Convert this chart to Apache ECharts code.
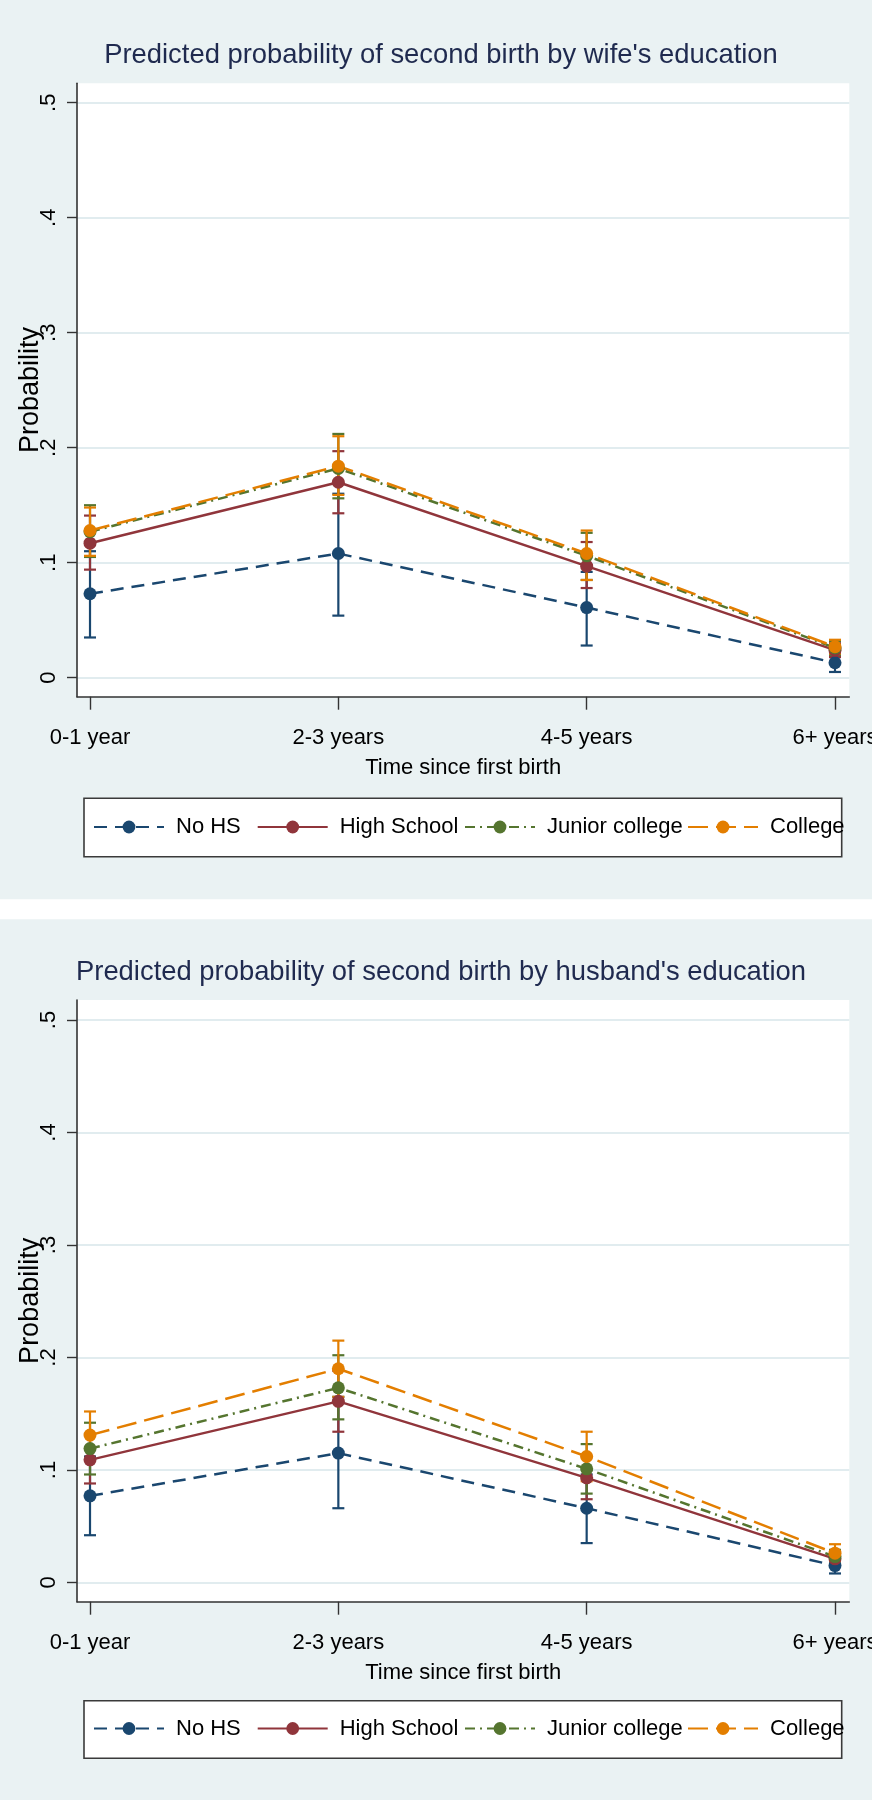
<!DOCTYPE html>
<html>
<head>
<meta charset="utf-8">
<script src="https://cdn.jsdelivr.net/npm/echarts@6/dist/echarts.min.js"></script>
<style>
html,body{margin:0;padding:0;background:#fff;}
#chart{width:878px;height:1800px;}
</style>
</head>
<body>
<div id="chart"></div>
<script>
// ---------- data ----------
const categories = ['0-1 year', '2-3 years', '4-5 years', '6+ years'];
const seriesNames = ['No HS', 'High School', 'Junior college', 'College'];
const yTicks = [0, 0.1, 0.2, 0.3, 0.4, 0.5];
const xTicks = [0, 1, 2, 3];

const titleWife = "Predicted probability of second birth by wife's education";
const titleHusband = "Predicted probability of second birth by husband's education";
const xTitle = 'Time since first birth';
const yTitle = 'Probability';

// wife's education: point estimates and 95% CI
const wifeNoHS   = [0.073, 0.108, 0.061, 0.013];
const wifeNoHSLo = [0.035, 0.054, 0.028, 0.005];
const wifeNoHSHi = [0.110, 0.160, 0.092, 0.020];
const wifeHS     = [0.117, 0.170, 0.097, 0.024];
const wifeHSLo   = [0.094, 0.143, 0.078, 0.018];
const wifeHSHi   = [0.141, 0.197, 0.118, 0.030];
const wifeJC     = [0.127, 0.182, 0.106, 0.026];
const wifeJCLo   = [0.105, 0.156, 0.085, 0.020];
const wifeJCHi   = [0.150, 0.212, 0.126, 0.032];
const wifeCol    = [0.128, 0.184, 0.108, 0.027];
const wifeColLo  = [0.106, 0.159, 0.085, 0.021];
const wifeColHi  = [0.148, 0.210, 0.128, 0.033];

// husband's education
const husNoHS   = [0.077, 0.115, 0.066, 0.015];
const husNoHSLo = [0.042, 0.066, 0.035, 0.008];
const husNoHSHi = [0.112, 0.165, 0.096, 0.021];
const husHS     = [0.109, 0.161, 0.093, 0.021];
const husHSLo   = [0.088, 0.134, 0.074, 0.016];
const husHSHi   = [0.131, 0.188, 0.112, 0.027];
const husJC     = [0.119, 0.173, 0.101, 0.023];
const husJCLo   = [0.096, 0.145, 0.079, 0.017];
const husJCHi   = [0.142, 0.202, 0.123, 0.029];
const husCol    = [0.131, 0.190, 0.112, 0.026];
const husColLo  = [0.109, 0.165, 0.090, 0.019];
const husColHi  = [0.152, 0.215, 0.134, 0.034];

// ---------- styles ----------
const colors = ['#1A476F', '#90353B', '#55752F', '#E37E00'];
const dashes = [[13, 8], 'solid', [10, 5, 2, 5], [20, 8]];
const FONT = '"Liberation Sans", Arial, sans-serif';
const BG = '#EAF2F3';

const panels = [
  { title: titleWife, titleTop: 42, grid: { left: 77, top: 83.3, width: 772.3, height: 613.4 }, yMin: -0.0165, yMax: 0.5169, legendTop: 816, box: [84, 798.3, 757.7, 58.4],
    vals: [wifeNoHS, wifeHS, wifeJC, wifeCol], lo: [wifeNoHSLo, wifeHSLo, wifeJCLo, wifeColLo], hi: [wifeNoHSHi, wifeHSHi, wifeJCHi, wifeColHi] },
  { title: titleHusband, titleTop: 959, grid: { left: 77, top: 1000, width: 772.3, height: 601.7 }, yMin: -0.0171, yMax: 0.5178, legendTop: 1717.5, box: [84, 1700.7, 757.7, 57.6],
    vals: [husNoHS, husHS, husJC, husCol], lo: [husNoHSLo, husHSLo, husJCLo, husColLo], hi: [husNoHSHi, husHSHi, husJCHi, husColHi] }
];
const legendLefts = [93, 256.7, 464, 687];

function ciRender(color) {
  return function (params, api) {
    const x = api.value(0), lo = api.value(1), hi = api.value(2);
    const a = api.coord([x, lo]), b = api.coord([x, hi]);
    const w = 6;
    const st = { stroke: color, lineWidth: 2.2 };
    return { type: 'group', children: [
      { type: 'line', shape: { x1: a[0], y1: a[1], x2: b[0], y2: b[1] }, style: st },
      { type: 'line', shape: { x1: a[0] - w, y1: a[1], x2: a[0] + w, y2: a[1] }, style: st },
      { type: 'line', shape: { x1: b[0] - w, y1: b[1], x2: b[0] + w, y2: b[1] }, style: st }
    ]};
  };
}

const option = {
  backgroundColor: BG,
  animation: false,
  textStyle: { fontFamily: FONT },
  title: [], grid: [], xAxis: [], yAxis: [], legend: [], series: [],
  graphic: [
    { type: 'rect', shape: { x: 0, y: 899.3, width: 878, height: 20 }, style: { fill: '#ffffff' }, z: 1 },
    { type: 'rect', shape: { x: 872, y: 0, width: 6, height: 1800 }, style: { fill: '#ffffff' }, z: 1 }
  ]
};

panels.forEach((p, gi) => {
  option.title.push({ text: p.title, left: 441, textAlign: 'center', top: p.titleTop, padding: 0,
    textStyle: { fontFamily: FONT, fontSize: 27.4, fontWeight: 'normal', color: '#1f2a4f' } });
  option.grid.push(Object.assign({ show: true, backgroundColor: '#ffffff', borderWidth: 0,
    containLabel: false, outerBoundsMode: 'none' }, p.grid));
  option.xAxis.push({
    type: 'value', gridIndex: gi, min: -0.0524, max: 3.0576,
    name: xTitle, nameLocation: 'middle', nameGap: 60, nameMoveOverlap: false,
    nameTextStyle: { fontFamily: FONT, fontSize: 22, color: '#000' },
    axisLine: { show: true, onZero: false, lineStyle: { color: '#333', width: 1.6 } },
    axisTick: { show: true, inside: false, length: 13, customValues: xTicks, lineStyle: { color: '#333', width: 1.4 } },
    axisLabel: { customValues: xTicks, margin: 30, fontSize: 22, color: '#000', fontFamily: FONT,
      formatter: v => categories[Math.round(v)] },
    splitLine: { show: false }
  });
  option.yAxis.push({
    type: 'value', gridIndex: gi, min: p.yMin, max: p.yMax,
    name: yTitle, nameLocation: 'middle', nameGap: 33, nameRotate: 90, nameMoveOverlap: false,
    nameTextStyle: { fontFamily: FONT, fontSize: 27, color: '#000' },
    axisLine: { show: true, onZero: false, lineStyle: { color: '#333', width: 1.6 } },
    axisTick: { show: true, inside: false, length: 10, customValues: yTicks, lineStyle: { color: '#333', width: 1.4 } },
    axisLabel: { customValues: yTicks, rotate: 90, margin: 17, fontSize: 22, color: '#000', fontFamily: FONT,
      formatter: v => (v === 0 ? '0' : v.toFixed(1).replace(/^0/, '')) },
    splitLine: { show: true, lineStyle: { color: '#E1ECEF', width: 2 } }
  });
  option.graphic.push({ type: 'rect', shape: { x: p.box[0], y: p.box[1], width: p.box[2], height: p.box[3] },
    style: { fill: '#ffffff', stroke: '#3a3a3a', lineWidth: 1.6 }, z: 1 });
  seriesNames.forEach((name, si) => {
    option.series.push({
      type: 'custom', name: name + ' CI', xAxisIndex: gi, yAxisIndex: gi, z: 2,
      renderItem: ciRender(colors[si]),
      encode: { x: 0, y: [1, 2] },
      data: xTicks.map((x, k) => [x, p.lo[si][k], p.hi[si][k]])
    });
  });
  seriesNames.forEach((name, si) => {
    option.series.push({
      type: 'line', name: name, xAxisIndex: gi, yAxisIndex: gi, z: 3,
      symbol: 'circle', symbolSize: 13,
      lineStyle: { color: colors[si], width: 2.5, type: dashes[si] },
      itemStyle: { color: colors[si] },
      data: xTicks.map((x, k) => [x, p.vals[si][k]])
    });
  });
  seriesNames.forEach((name, si) => {
    option.legend.push({
      data: [name], left: legendLefts[si], top: p.legendTop, padding: 0,
      itemWidth: 70, itemHeight: 16, selectedMode: false, z: 5,
      textStyle: { fontFamily: FONT, fontSize: 22, color: '#000', padding: [0, 0, 0, 7] }
    });
  });
});

const chart = echarts.init(document.getElementById('chart'), null, { renderer: 'canvas' });
chart.setOption(option);
</script>
</body>
</html>
